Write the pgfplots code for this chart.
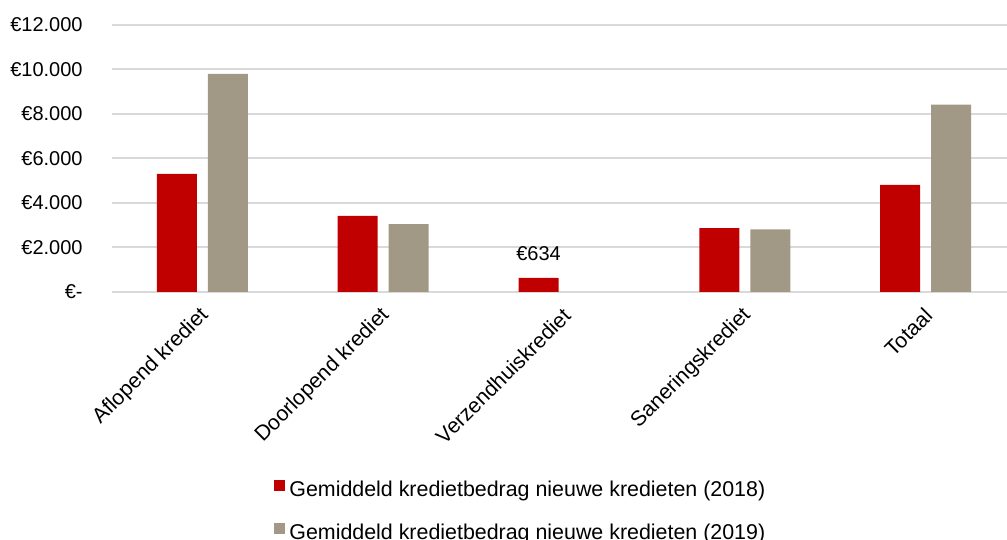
\documentclass[border=0pt]{standalone}
\usepackage{fontspec}
\setmainfont{Liberation Sans}
\usepackage{pgfplots}
\pgfplotsset{compat=1.18}
\definecolor{redA}{HTML}{C00000}
\definecolor{grayB}{HTML}{A19985}
\definecolor{gridc}{HTML}{D9D9D9}
\pgfplotsset{sqleg/.style={legend image code/.code={\fill[##1] (0pt,0pt) rectangle (5.5pt,5.5pt);}}}
\begin{document}
\begin{tikzpicture}
\path[use as bounding box] (0,0) rectangle (503.5pt,270pt);
\begin{axis}[
  at={(56pt,124pt)}, anchor=south west,
  scale only axis, width=447.5pt, height=133.5pt,
  xmin=-0.5, xmax=4.45, ymin=0, ymax=12000,
  scaled y ticks=false,
  ytick={0,2000,4000,6000,8000,10000,12000},
  yticklabels={€-,€2.000,€4.000,€6.000,€8.000,€10.000,€12.000},
  xtick={0,1,2,3,4},
  xticklabels={Aflopend krediet,Doorlopend krediet,Verzendhuiskrediet,Saneringskrediet,Totaal},
  yticklabel style={anchor=east, inner sep=0pt, xshift=-14.5pt, font=\fontsize{10}{12}\selectfont},
  xticklabel style={xshift=1.5pt, yshift=-10pt, rotate=45, anchor=east, inner sep=0pt, font=\fontsize{10.6}{12}\selectfont},
  ymajorgrids, grid style={gridc, line width=1pt},
  axis line style={draw=none}, major tick length=0pt,
  clip=false,
  legend style={draw=none, fill=none, inner sep=0pt,
    at={(0.181,-0.697)}, anchor=north west,
    font=\fontsize{10.7}{12}\selectfont, row sep=8.3pt,
    cells={anchor=west},
    nodes={text height=7pt, text depth=2pt}},
  legend cell align=left,
]
\addplot[ybar, bar width=0.221, bar shift=-0.141, fill=redA, draw=none,
  area legend, sqleg,
  nodes near coords, point meta=explicit symbolic,
  every node near coord/.append style={anchor=base, xshift=-12.75pt, yshift=8.5pt, inner sep=0pt, font=\fontsize{10}{12}\selectfont, text=black}]
  coordinates {(0,5311) [] (1,3425) [] (2,634) [€634] (3,2873) [] (4,4817) []};
\addlegendentry{Gemiddeld kredietbedrag nieuwe kredieten (2018)}
\addplot[ybar, bar width=0.221, bar shift=0.141, fill=grayB, draw=none,
  area legend, sqleg]
  coordinates {(0,9800) (1,3053) (3,2810) (4,8422)};
\addlegendentry{Gemiddeld kredietbedrag nieuwe kredieten (2019)}
\end{axis}
\end{tikzpicture}
\end{document}
